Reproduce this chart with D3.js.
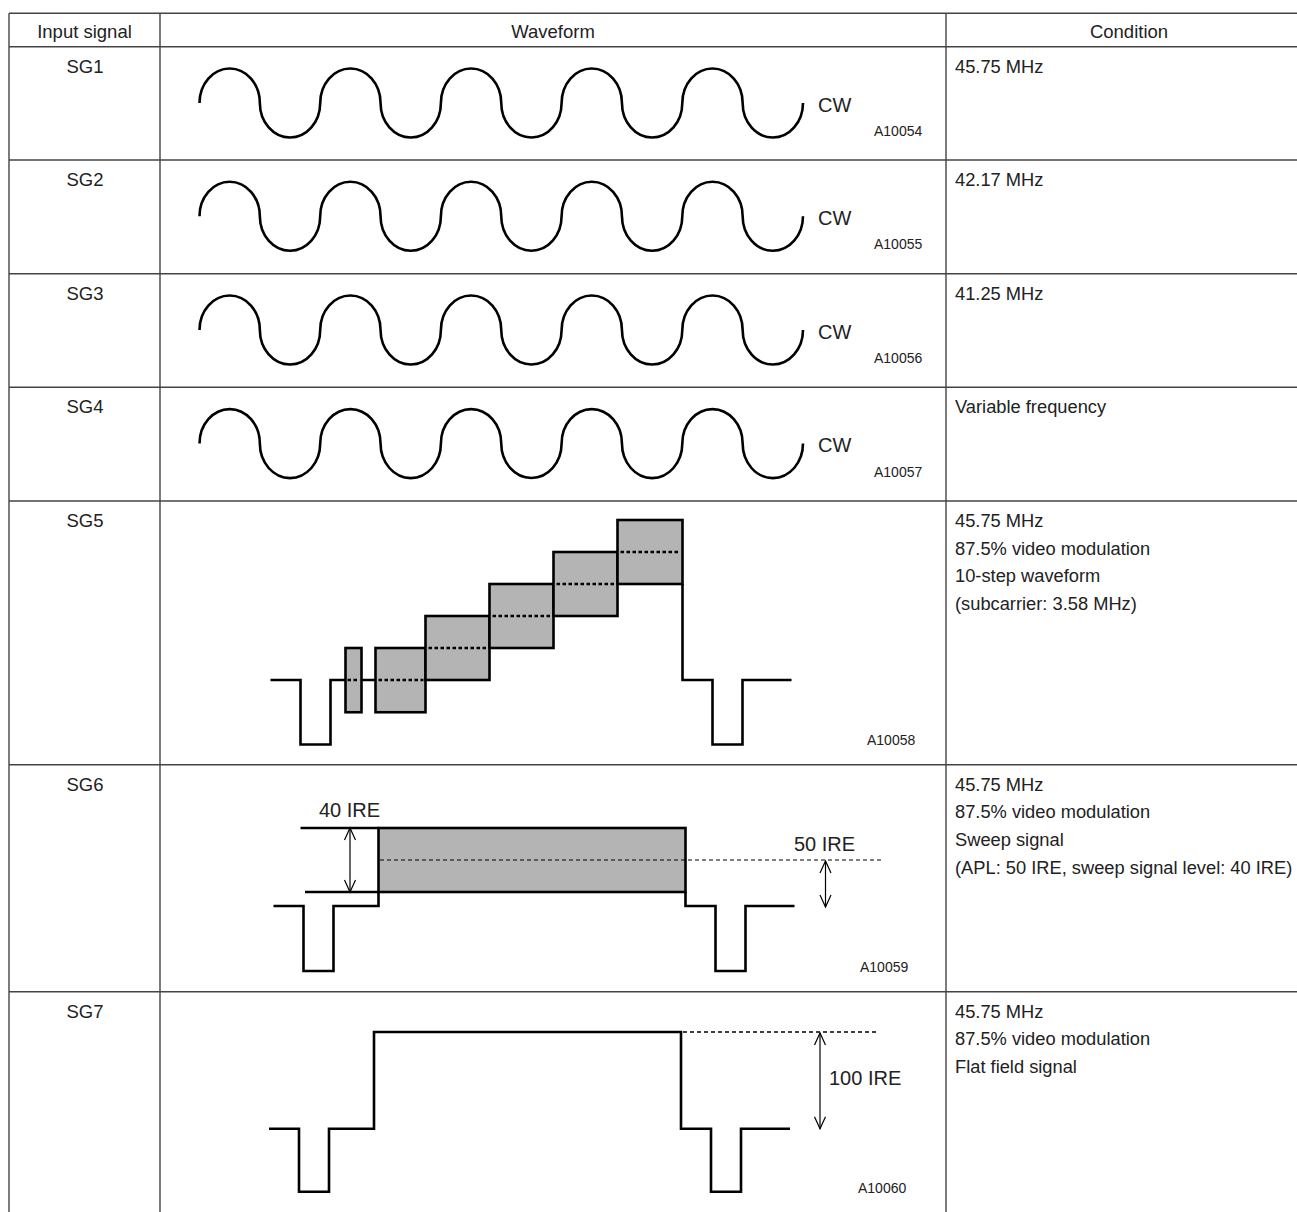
<!DOCTYPE html>
<html><head><meta charset="utf-8">
<script src="https://cdn.jsdelivr.net/npm/d3@7"></script>
<style>
html,body{margin:0;padding:0;background:#fff}
svg{display:block}
text{font-family:"Liberation Sans",Arial,Helvetica,sans-serif;fill:#222}
</style>
</head><body>
<script>
// ---------- DATA ----------
const headers = ["Input signal", "Waveform", "Condition"];
const signals = ["SG1", "SG2", "SG3", "SG4", "SG5", "SG6", "SG7"];
const figureCodes = ["A10054", "A10055", "A10056", "A10057", "A10058", "A10059", "A10060"];
const conditionLines = [
  ["45.75 MHz"],
  ["42.17 MHz"],
  ["41.25 MHz"],
  ["Variable frequency"],
  ["45.75 MHz", "87.5% video modulation", "10-step waveform", "(subcarrier: 3.58 MHz)"],
  ["45.75 MHz", "87.5% video modulation", "Sweep signal", "(APL: 50 IRE, sweep signal level: 40 IRE)"],
  ["45.75 MHz", "87.5% video modulation", "Flat field signal"]
];
const cwCycles = 5;
const cwLabel = "CW";
// one video line: start, sync start, sync end, picture start, picture end, sync2 start, sync2 end, end (time units)
const lineTimes = [0, 30, 60, 105, 412, 442, 472, 521];
const syncLevel = -40, blankLevel = 0;           // IRE
// SG5: 10-step staircase with subcarrier
const burstTimes = [75, 91];
const burstHalf = 20;
const stairEdges = [105, 155, 219, 283, 347, 412];
const stairLevels = [0, 20, 40, 60, 80];
const stairHalf = 20;
// SG6: sweep signal
const sweepLevels = [30, 70];
const aplLevel = 50;
const sweepLabels = ["40 IRE", "50 IRE"];
// SG7: flat field
const flatLevel = 100;
const flatLabel = "100 IRE";

// ---------- LAYOUT ----------
const W = 1297, H = 1212;
const colX = [9, 160, 946, 1312];
const rowY = [13.3, 46.7, 160, 273.7, 387.3, 501, 764.7, 991.7, 1240];
const ink = "#000", gridC = "#444", fillC = "#b4b4b4";
const WL = 2.6;

const svg = d3.select("body").append("svg").attr("width", W).attr("height", H);

// table grid
const grid = svg.append("g").attr("stroke", gridC).attr("stroke-width", 1.4);
grid.selectAll("line.h").data(rowY.slice(0, -1)).join("line").attr("class", "h")
  .attr("x1", colX[0]).attr("x2", colX[3]).attr("y1", d => d).attr("y2", d => d);
grid.selectAll("line.v").data(colX).join("line").attr("class", "v")
  .attr("x1", d => d).attr("x2", d => d).attr("y1", rowY[0]).attr("y2", rowY[rowY.length - 1]);

// headers
svg.selectAll("text.hdr").data(headers).join("text").attr("class", "hdr")
  .attr("x", (d, i) => (colX[i] + colX[i + 1]) / 2).attr("y", 37.5)
  .attr("text-anchor", "middle").attr("font-size", 18.5).text(d => d);

// signal names
svg.selectAll("text.sg").data(signals).join("text").attr("class", "sg")
  .attr("x", (colX[0] + colX[1]) / 2 + 0.5).attr("y", (d, i) => rowY[i + 1] + 26)
  .attr("text-anchor", "middle").attr("font-size", 18.5).text(d => d);

// conditions
conditionLines.forEach((lines, i) => {
  svg.append("g").selectAll("text").data(lines).join("text")
    .attr("x", 955).attr("y", (d, j) => rowY[i + 1] + 26 + j * 27.7)
    .attr("font-size", 18.3).text(d => d);
});

// ---------- CW rows ----------
for (let i = 0; i < 4; i++) {
  const top = rowY[i + 1];
  const c = top + 56.3;
  const x = d3.scaleLinear().domain([0, cwCycles]).range([199.5, 803]);
  const y = d3.scaleLinear().domain([-1, 1]).range([c + 34.5, c - 34.5]);
  const rx = (x(1) - x(0)) / 4, ry = y(0) - y(1);
  let p = `M${x(0)},${y(0)}`;
  d3.range(cwCycles).forEach(k => {
    p += ` A${rx},${ry} 0 0 1 ${x(k + 0.5)},${y(0)}`;
    p += ` A${rx},${ry} 0 0 0 ${x(k + 1)},${y(0)}`;
  });
  svg.append("path").attr("d", p).attr("fill", "none").attr("stroke", ink).attr("stroke-width", WL);
  svg.append("text").attr("x", 818).attr("y", c + 8.7).attr("font-size", 20).text(cwLabel);
  svg.append("text").attr("x", 874).attr("y", c + 33).attr("font-size", 14).text(figureCodes[i]);
}

function wave(d) {
  return svg.append("path").attr("d", d).attr("fill", "none").attr("stroke", ink)
    .attr("stroke-width", WL).attr("stroke-linejoin", "miter");
}
function arrow(xp, ya, yb) {
  const g = svg.append("g").attr("stroke", ink).attr("stroke-width", 1.2).attr("fill", "none");
  g.append("line").attr("x1", xp).attr("x2", xp).attr("y1", ya).attr("y2", yb);
  const s = ya < yb ? 1 : -1;
  g.append("path").attr("d", `M${xp - 5.5},${ya + s * 12} L${xp},${ya} L${xp + 5.5},${ya + s * 12}`);
  g.append("path").attr("d", `M${xp - 5.5},${yb - s * 12} L${xp},${yb} L${xp + 5.5},${yb - s * 12}`);
}
const T = lineTimes;

// ---------- SG5 ----------
{
  const top = rowY[5];
  const x = d3.scaleLinear().domain([0, 521]).range([270.5, 791.5]);
  const y = d3.scaleLinear().domain([syncLevel, blankLevel, 100]).range([top + 243.5, top + 179, top + 19]);
  const steps = stairLevels.map((lv, k) => ({lv, x0: stairEdges[k], x1: stairEdges[k + 1]}));
  svg.append("g").selectAll("rect").data(steps).join("rect")
    .attr("x", d => x(d.x0)).attr("width", d => x(d.x1) - x(d.x0))
    .attr("y", d => y(d.lv + stairHalf)).attr("height", d => y(d.lv - stairHalf) - y(d.lv + stairHalf))
    .attr("fill", fillC).attr("stroke", ink).attr("stroke-width", WL);
  svg.append("rect").attr("x", x(burstTimes[0])).attr("width", x(burstTimes[1]) - x(burstTimes[0]))
    .attr("y", y(burstHalf)).attr("height", y(-burstHalf) - y(burstHalf))
    .attr("fill", fillC).attr("stroke", ink).attr("stroke-width", WL);
  svg.append("g").selectAll("line").data(steps).join("line")
    .attr("x1", d => x(d.x0) + 3).attr("x2", d => x(d.x1) - 2)
    .attr("y1", d => y(d.lv)).attr("y2", d => y(d.lv))
    .attr("stroke", ink).attr("stroke-width", WL).attr("stroke-dasharray", "3.5 2.5");
  svg.append("line").attr("x1", x(burstTimes[0]) + 2).attr("x2", x(burstTimes[1]) - 2)
    .attr("y1", y(0)).attr("y2", y(0)).attr("stroke", ink).attr("stroke-width", WL).attr("stroke-dasharray", "3.5 2.5");
  wave(`M${x(T[0])},${y(0)} H${x(T[1])} V${y(syncLevel)} H${x(T[2])} V${y(0)} H${x(burstTimes[0])}` +
       ` M${x(burstTimes[1])},${y(0)} H${x(T[3])}` +
       ` M${x(T[4])},${y(stairLevels[4] - stairHalf)} V${y(0)} H${x(T[5])} V${y(syncLevel)} H${x(T[6])} V${y(0)} H${x(T[7])}`);
  svg.append("text").attr("x", 867).attr("y", 745).attr("font-size", 14).text(figureCodes[4]);
}

// ---------- SG6 ----------
{
  const top = rowY[6];
  const x = d3.scaleLinear().domain([0, 521]).range([273.5, 794.5]);
  const y = d3.scaleLinear().domain([syncLevel, blankLevel, sweepLevels[0], sweepLevels[1]])
    .range([top + 206.3, top + 141.3, top + 127.3, top + 63.3]);
  svg.append("rect").attr("x", x(T[3])).attr("width", x(T[4]) - x(T[3]))
    .attr("y", y(sweepLevels[1])).attr("height", y(sweepLevels[0]) - y(sweepLevels[1]))
    .attr("fill", fillC).attr("stroke", ink).attr("stroke-width", WL);
  svg.append("line").attr("x1", x(T[3]) + 1.5).attr("x2", x(610)).attr("y1", y(aplLevel)).attr("y2", y(aplLevel))
    .attr("stroke", ink).attr("stroke-width", 1).attr("stroke-dasharray", "4 3");
  wave(`M${x(T[0])},${y(0)} H${x(T[1])} V${y(syncLevel)} H${x(T[2])} V${y(0)} H${x(T[3])} V${y(sweepLevels[0])}` +
       ` M${x(T[4])},${y(sweepLevels[0])} V${y(0)} H${x(T[5])} V${y(syncLevel)} H${x(T[6])} V${y(0)} H${x(T[7])}` +
       ` M${x(27)},${y(sweepLevels[1])} H${x(T[3])} M${x(31.5)},${y(sweepLevels[0])} H${x(T[3])}`);
  arrow(x(76.5), y(sweepLevels[1]), y(sweepLevels[0]));
  arrow(x(552), y(aplLevel) + 1, y(0) + 1);
  svg.append("text").attr("x", x(45.5)).attr("y", y(sweepLevels[1]) - 11).attr("font-size", 20).text(sweepLabels[0]);
  svg.append("text").attr("x", x(520.5)).attr("y", y(aplLevel) - 9.5).attr("font-size", 20).text(sweepLabels[1]);
  svg.append("text").attr("x", 860).attr("y", 972).attr("font-size", 14).text(figureCodes[5]);
}

// ---------- SG7 ----------
{
  const top = rowY[7];
  const x = d3.scaleLinear().domain([0, 521]).range([269, 790]);
  const y = d3.scaleLinear().domain([syncLevel, blankLevel, flatLevel]).range([top + 200, top + 137, top + 40.3]);
  wave(`M${x(T[0])},${y(0)} H${x(T[1])} V${y(syncLevel)} H${x(T[2])} V${y(0)} H${x(T[3])} V${y(flatLevel)}` +
       ` H${x(T[4])} V${y(0)} H${x(T[5])} V${y(syncLevel)} H${x(T[6])} V${y(0)} H${x(T[7])}`);
  svg.append("line").attr("x1", x(T[4]) + 2).attr("x2", x(608)).attr("y1", y(flatLevel)).attr("y2", y(flatLevel))
    .attr("stroke", ink).attr("stroke-width", 1.3).attr("stroke-dasharray", "4 3");
  arrow(x(551), y(flatLevel) + 1, y(0));
  svg.append("text").attr("x", x(560)).attr("y", y(flatLevel) + 53).attr("font-size", 20).text(flatLabel);
  svg.append("text").attr("x", 858).attr("y", 1193).attr("font-size", 14).text(figureCodes[6]);
}
</script>
</body></html>
